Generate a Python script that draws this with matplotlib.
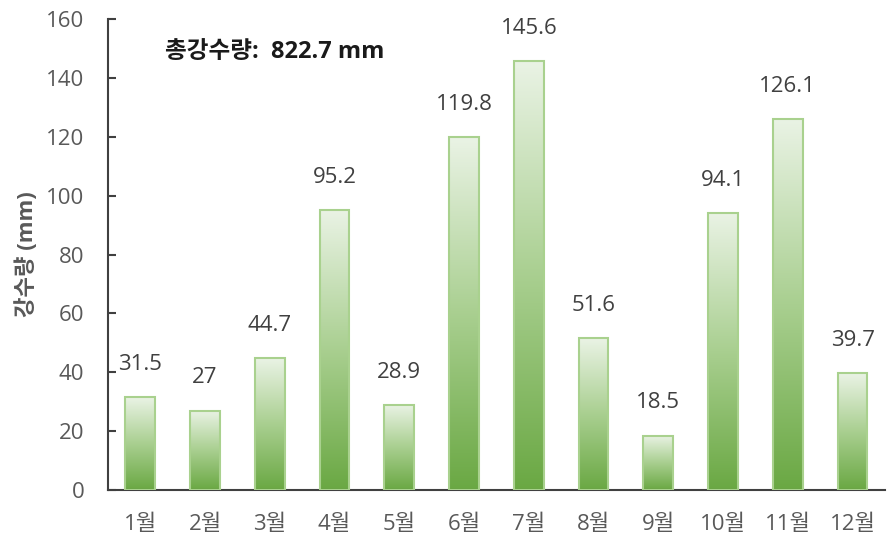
import numpy as np
import matplotlib.pyplot as plt
from matplotlib.colors import LinearSegmentedColormap
from matplotlib.patches import Rectangle

plt.rcParams['font.family'] = ['Open Sans', 'Noto Sans CJK KR', 'DejaVu Sans']

months = ['1월', '2월', '3월', '4월', '5월', '6월', '7월', '8월', '9월', '10월', '11월', '12월']
rainfall = [31.5, 27, 44.7, 95.2, 28.9, 119.8, 145.6, 51.6, 18.5, 94.1, 126.1, 39.7]
total_label = '총강수량:  822.7 mm'

fig = plt.figure(figsize=(8.88, 5.43), dpi=100)
ax = fig.add_axes([0.1216, 0.0976, 0.875, 0.8674])

# light at the top, darker green at the base
cmap = LinearSegmentedColormap.from_list('rain', ['#6aa843', '#a9cf90', '#eaf3e5'])
grad = np.linspace(0, 1, 256).reshape(-1, 1)

width = 0.46
x = np.arange(len(months))
for xi, v in zip(x, rainfall):
    im = ax.imshow(grad, cmap=cmap, origin='lower', aspect='auto',
                   extent=[xi - width / 2, xi + width / 2, 0, v], zorder=2)
    rect = Rectangle((xi - width / 2, 0), width, v, facecolor='none',
                     edgecolor='#a9d18e', linewidth=1.5, zorder=3)
    ax.add_patch(rect)
    im.set_clip_path(rect)
    ax.text(xi, v + 7.5, f'{v:g}', ha='center', va='bottom', fontsize=16, color='#404040')

ax.set_xlim(-0.5, 11.5)
ax.set_ylim(0, 160)
ax.set_yticks(range(0, 161, 20))
ax.set_xticks(x)
ax.set_xticklabels(months)
ax.tick_params(axis='y', direction='in', length=6, width=1.5, color='#404040',
               labelsize=16, labelcolor='#595959', pad=17)
ax.tick_params(axis='x', length=0, labelsize=16, labelcolor='#595959', pad=17)

for side in ['top', 'right']:
    ax.spines[side].set_visible(False)
for side in ['left', 'bottom']:
    ax.spines[side].set_color('#404040')
    ax.spines[side].set_linewidth(1.5)

ax.set_ylabel('강수량 (mm)', fontsize=16, fontweight='bold', color='#595959', labelpad=6)
ax.text(0.38, 148.8, total_label, ha='left', va='center', fontsize=17,
        fontweight='bold', color='#1a1a1a')

fig.savefig('out.png', dpi=100)
